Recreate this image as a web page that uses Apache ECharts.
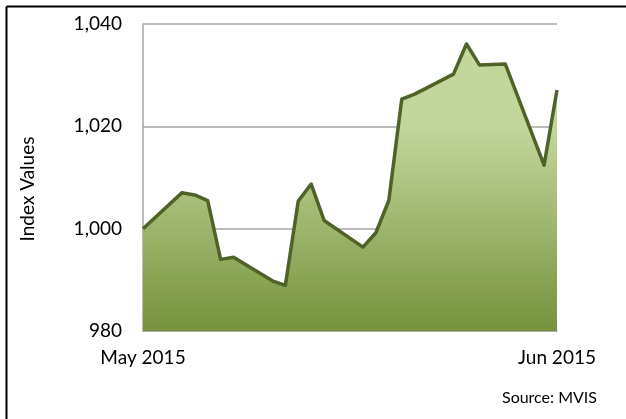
<!DOCTYPE html>
<html>
<head>
<meta charset="utf-8">
<script src="https://cdn.jsdelivr.net/npm/echarts@6/dist/echarts.min.js"></script>
<style>
  html, body { margin: 0; padding: 0; background: #fff; }
  #chart { width: 626px; height: 419px; }
</style>
</head>
<body>
<div id="chart"></div>
<script>
// trading days (gaps = weekends / holidays)
var tradeDates = [
  '2015-05-01', '2015-05-04', '2015-05-05', '2015-05-06', '2015-05-07', '2015-05-08',
  '2015-05-11', '2015-05-12', '2015-05-13', '2015-05-14', '2015-05-15',
  '2015-05-18', '2015-05-19', '2015-05-20', '2015-05-21', '2015-05-22',
  '2015-05-25', '2015-05-26', '2015-05-27', '2015-05-29',
  '2015-06-01', '2015-06-02'
];
var indexValues = [
  1000.0, 1007.0, 1006.6, 1005.5, 994.0, 994.4,
  989.8, 988.9, 1005.4, 1008.7, 1001.6,
  996.4, 999.2, 1005.5, 1025.3, 1026.3,
  1030.2, 1036.1, 1032.0, 1032.2,
  1012.4, 1027.1
];
var yTicks = [980, 1000, 1020, 1040];
var xLabels = ['May 2015', 'Jun 2015'];

// every calendar day between first and last trading day, value null when no trade
var days = [];
var dayValues = [];
var d = new Date(tradeDates[0] + 'T00:00:00Z');
var end = new Date(tradeDates[tradeDates.length - 1] + 'T00:00:00Z');
while (d <= end) {
  var s = d.toISOString().slice(0, 10);
  days.push(s);
  var k = tradeDates.indexOf(s);
  dayValues.push(k >= 0 ? indexValues[k] : null);
  d.setUTCDate(d.getUTCDate() + 1);
}

var font = 'Lato, "Open Sans", sans-serif';
var chart = echarts.init(document.getElementById('chart'));

var option = {
  animation: false,
  grid: { left: 143, right: 69, top: 24, bottom: 88 },
  xAxis: {
    type: 'category',
    data: days,
    boundaryGap: false,
    axisLine: { show: true, lineStyle: { color: '#a6a6a6', width: 1.5 } },
    axisTick: { show: false },
    splitLine: { show: false },
    axisLabel: {
      interval: function (i) { return i === 0 || i === days.length - 1; },
      formatter: function (v, i) { return i === 0 ? xLabels[0] : xLabels[1]; },
      color: '#000',
      fontFamily: font,
      fontSize: 19,
      margin: 17
    }
  },
  yAxis: {
    type: 'value',
    min: yTicks[0],
    max: yTicks[yTicks.length - 1],
    interval: 20,
    axisLine: { show: true, lineStyle: { color: '#a6a6a6', width: 1.5 } },
    axisTick: { show: false },
    splitLine: { show: true, lineStyle: { color: '#a6a6a6', width: 1.5 } },
    axisLabel: {
      color: '#000',
      fontFamily: font,
      fontSize: 19,
      margin: 21,
      formatter: function (v) { return v.toLocaleString('en-US'); }
    }
  },
  series: [{
    type: 'line',
    data: dayValues,
    connectNulls: true,
    symbol: 'none',
    lineStyle: { color: '#4f6228', width: 3.5, join: 'round' },
    areaStyle: {
      origin: 'start',
      opacity: 1,
      color: new echarts.graphic.LinearGradient(0, 0, 0, 1, [
        { offset: 0, color: '#c4d79b' },
        { offset: 0.3, color: '#c2d59a' },
        { offset: 1, color: '#76923c' }
      ])
    }
  }],
  graphic: [
    // outer frame, only top and left edges are inside the picture
    { type: 'line', shape: { x1: 6.5, y1: 6.5, x2: 626, y2: 6.5 }, style: { stroke: '#000', lineWidth: 2 } },
    { type: 'line', shape: { x1: 6.5, y1: 6.5, x2: 6.5, y2: 419 }, style: { stroke: '#000', lineWidth: 2 } },
    {
      type: 'text', x: 28, y: 189, rotation: Math.PI / 2,
      style: { text: 'Index Values', fill: '#000', font: '19px ' + font, align: 'center', verticalAlign: 'middle' }
    },
    {
      type: 'text', x: 597, y: 398,
      style: { text: 'Source: MVIS', fill: '#000', font: '16px ' + font, align: 'right', verticalAlign: 'middle' }
    }
  ]
};

chart.setOption(option);
</script>
</body>
</html>
